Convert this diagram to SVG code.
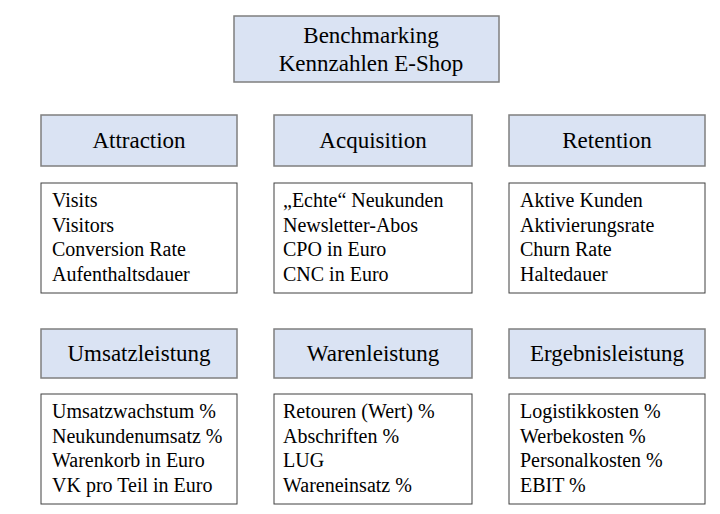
<svg xmlns="http://www.w3.org/2000/svg" width="720" height="514" viewBox="0 0 720 514">
<style>
.hdr{fill:#dae3f3;stroke:#7f7f7f;stroke-width:1.5}
.box{fill:#ffffff;stroke:#404040;stroke-width:1}
.ht{font-family:"Liberation Serif","Times New Roman",serif;font-size:23px;fill:#000;text-anchor:middle}
.ct{font-family:"Liberation Serif","Times New Roman",serif;font-size:20px;fill:#000}
</style>
<rect width="720" height="514" fill="#ffffff"/>
<g id="connectors"></g>
<g id="title">
<rect class="hdr" x="234" y="16" width="265" height="66"/>
<text class="ht" x="371" y="43">Benchmarking</text>
<text class="ht" x="371" y="71">Kennzahlen E-Shop</text>
</g>
<g id="attraction">
<rect class="hdr" x="41" y="115" width="196" height="51"/>
<text class="ht" x="139" y="148">Attraction</text>
</g>
<g id="attraction-list">
<rect class="box" x="41" y="183" width="196" height="110"/>
<text class="ct" x="52" y="207">Visits</text>
<text class="ct" x="52" y="231.5">Visitors</text>
<text class="ct" x="52" y="256">Conversion Rate</text>
<text class="ct" x="52" y="280.5">Aufenthaltsdauer</text>
</g>
<g id="acquisition">
<rect class="hdr" x="274" y="115" width="198" height="51"/>
<text class="ht" x="373" y="148">Acquisition</text>
</g>
<g id="acquisition-list">
<rect class="box" x="274" y="183" width="198" height="110"/>
<text class="ct" x="283" y="207">„Echte“ Neukunden</text>
<text class="ct" x="283" y="231.5">Newsletter-Abos</text>
<text class="ct" x="283" y="256">CPO in Euro</text>
<text class="ct" x="283" y="280.5">CNC in Euro</text>
</g>
<g id="retention">
<rect class="hdr" x="509" y="115" width="196" height="51"/>
<text class="ht" x="607" y="148">Retention</text>
</g>
<g id="retention-list">
<rect class="box" x="509" y="183" width="196" height="110"/>
<text class="ct" x="520" y="207">Aktive Kunden</text>
<text class="ct" x="520" y="231.5">Aktivierungsrate</text>
<text class="ct" x="520" y="256">Churn Rate</text>
<text class="ct" x="520" y="280.5">Haltedauer</text>
</g>
<g id="umsatzleistung">
<rect class="hdr" x="41" y="329" width="196" height="49"/>
<text class="ht" x="139" y="361">Umsatzleistung</text>
</g>
<g id="umsatzleistung-list">
<rect class="box" x="41" y="394" width="196" height="110"/>
<text class="ct" x="52" y="418">Umsatzwachstum %</text>
<text class="ct" x="52" y="442.5">Neukundenumsatz %</text>
<text class="ct" x="52" y="467">Warenkorb in Euro</text>
<text class="ct" x="52" y="491.5">VK pro Teil in Euro</text>
</g>
<g id="warenleistung">
<rect class="hdr" x="274" y="329" width="198" height="49"/>
<text class="ht" x="373" y="361">Warenleistung</text>
</g>
<g id="warenleistung-list">
<rect class="box" x="274" y="394" width="198" height="110"/>
<text class="ct" x="283" y="418">Retouren (Wert) %</text>
<text class="ct" x="283" y="442.5">Abschriften %</text>
<text class="ct" x="283" y="467">LUG</text>
<text class="ct" x="283" y="491.5">Wareneinsatz %</text>
</g>
<g id="ergebnisleistung">
<rect class="hdr" x="509" y="329" width="196" height="49"/>
<text class="ht" x="607" y="361">Ergebnisleistung</text>
</g>
<g id="ergebnisleistung-list">
<rect class="box" x="509" y="394" width="196" height="110"/>
<text class="ct" x="520" y="418">Logistikkosten %</text>
<text class="ct" x="520" y="442.5">Werbekosten %</text>
<text class="ct" x="520" y="467">Personalkosten %</text>
<text class="ct" x="520" y="491.5">EBIT %</text>
</g>
</svg>
